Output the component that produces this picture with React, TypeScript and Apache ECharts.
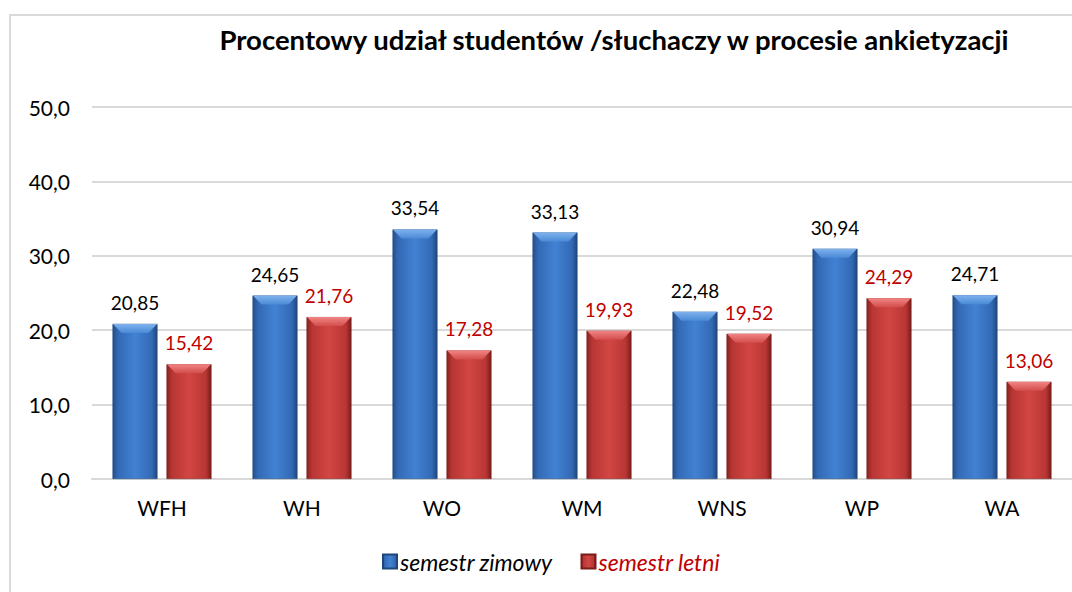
import React, { useEffect, useRef } from "react";
import * as echarts from "echarts";

const categories = ["WFH", "WH", "WO", "WM", "WNS", "WP", "WA"];
const winterValues = [20.85, 24.65, 33.54, 33.13, 22.48, 30.94, 24.71];
const summerValues = [15.42, 21.76, 17.28, 19.93, 19.52, 24.29, 13.06];
const seriesNames = ["semestr zimowy", "semestr letni"];
const titleText = "Procentowy udział studentów /słuchaczy w procesie ankietyzacji";

const FONT = "Lato, 'Open Sans', sans-serif";

const fmt2 = (v: number) => v.toFixed(2).replace(".", ",");
const fmt1 = (v: number) => v.toFixed(1).replace(".", ",");

const blueFill = new echarts.graphic.LinearGradient(0, 0, 1, 0, [
  { offset: 0, color: "#244f8c" },
  { offset: 0.12, color: "#3269b5" },
  { offset: 0.5, color: "#4282d3" },
  { offset: 0.88, color: "#3269b5" },
  { offset: 1, color: "#1f4679" },
]);
const redFill = new echarts.graphic.LinearGradient(0, 0, 1, 0, [
  { offset: 0, color: "#8a2220" },
  { offset: 0.12, color: "#b83634" },
  { offset: 0.5, color: "#d24643" },
  { offset: 0.88, color: "#b83634" },
  { offset: 1, color: "#7a1c1a" },
]);

const bevel = (values: number[], side: number, c1: string, c2: string) => ({
  type: "custom",
  silent: true,
  z: 5,
  data: values.map((v, i) => [i, v]),
  renderItem: (params: any, api: any) => {
    const p = api.coord([api.value(0), api.value(1)]);
    const band = api.size([1, 0])[0];
    const bw = (band * 45) / 140;
    const off = ((band * 27) / 140) * side;
    const x0 = p[0] + off - bw / 2;
    const x1 = x0 + bw;
    const top = p[1];
    const d = 9;
    return {
      type: "polygon",
      shape: { points: [[x0 + 0.5, top], [x1 - 0.5, top], [x1 - d, top + d], [x0 + d, top + d]] },
      style: {
        fill: new echarts.graphic.LinearGradient(0, 0, 0, 1, [
          { offset: 0, color: c1 },
          { offset: 1, color: c2 },
        ]),
      },
    };
  },
});

export default function App() {
  const ref = useRef<HTMLDivElement>(null);
  useEffect(() => {
    if (!ref.current) return;
    const chart = echarts.init(ref.current, null, { renderer: "svg" });
    chart.setOption({
      animation: false,
      textStyle: { fontFamily: FONT },
      graphic: [
        {
          type: "rect",
          shape: { x: 10, y: 15, width: 1200, height: 800 },
          style: { fill: "none", stroke: "#d9d9d9", lineWidth: 2 },
          silent: true,
          z: -10,
        },
      ],
      title: {
        text: titleText,
        left: 609,
        textAlign: "center",
        top: 20,
        textStyle: { fontFamily: FONT, fontSize: 27.5, fontWeight: "bold", color: "#000" },
      },
      legend: {
        left: 377,
        top: 545,
        icon: "rect",
        itemWidth: 14,
        itemHeight: 14,
        itemGap: 28,
        data: [
          { name: seriesNames[0], textStyle: { color: "#000" } },
          { name: seriesNames[1], textStyle: { color: "#c00000" } },
        ],
        textStyle: { fontFamily: FONT, fontSize: 23, fontStyle: "italic", padding: [0, 0, 0, -2] },
      },
      grid: { left: 92, right: 0, top: 107, bottom: 113, containLabel: false },
      xAxis: {
        type: "category",
        data: categories,
        axisLine: { lineStyle: { color: "#d9d9d9", width: 2 } },
        axisTick: { show: false },
        axisLabel: { color: "#000", fontSize: 21, margin: 18, fontFamily: FONT },
      },
      yAxis: {
        type: "value",
        min: 0,
        max: 50,
        interval: 10,
        axisLine: { show: false },
        axisTick: { show: false },
        splitLine: { lineStyle: { color: "#d9d9d9", width: 2 } },
        axisLabel: { color: "#000", fontSize: 21, margin: 22, fontFamily: FONT, formatter: (v: number) => fmt1(v) },
      },
      series: [
        {
          name: seriesNames[0],
          type: "bar",
          data: winterValues,
          barWidth: 45,
          barGap: "20%",
          itemStyle: { color: blueFill, borderColor: "#1f4679", borderWidth: 0.5 },
          label: {
            show: true,
            position: "top",
            distance: 12,
            color: "#000",
            fontSize: 19,
            fontFamily: FONT,
            formatter: (p: any) => fmt2(p.value),
          },
        },
        {
          name: seriesNames[1],
          type: "bar",
          data: summerValues,
          barWidth: 45,
          itemStyle: { color: redFill, borderColor: "#7a1c1a", borderWidth: 0.5 },
          label: {
            show: true,
            position: "top",
            distance: 12,
            color: "#c00000",
            fontSize: 19,
            fontFamily: FONT,
            formatter: (p: any) => fmt2(p.value),
          },
        },
        bevel(winterValues, -1, "#7fb2ee", "#4a8ad6"),
        bevel(summerValues, 1, "#f08585", "#d34d4a"),
      ],
    });
    return () => chart.dispose();
  }, []);
  return (
    <div
      ref={ref}
      style={{ position: "fixed", left: 0, top: 0, width: 1072, height: 592, background: "#fff" }}
    />
  );
}
